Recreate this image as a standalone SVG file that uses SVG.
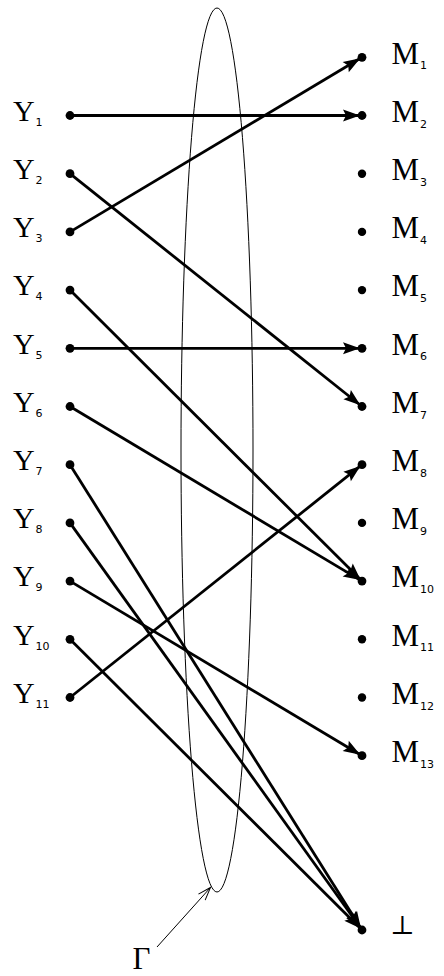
<svg xmlns="http://www.w3.org/2000/svg" width="444" height="976" viewBox="0 0 444 976">
<style>
.lbl{font-family:"Liberation Serif","Times New Roman",serif;font-size:31px;fill:#000}
.ylbl{font-family:"Liberation Serif","Times New Roman",serif;font-size:30px;fill:#000}
.sub{font-family:"DejaVu Sans",sans-serif;font-size:11px;fill:#000}
.edge{stroke:#000;stroke-width:2.8;fill:none;marker-end:url(#ah)}
.dot{fill:#000}
</style>
<defs>
<marker id="ah" markerUnits="userSpaceOnUse" markerWidth="22" markerHeight="16" viewBox="0 0 22 16" refX="20" refY="8" orient="auto"><path d="M1,2 L18,8 L1,14 L4,8 z" fill="#000"/></marker>
<marker id="oa" markerUnits="userSpaceOnUse" markerWidth="16" markerHeight="12" viewBox="0 0 16 12" refX="14" refY="6" orient="auto"><path d="M1,1.5 L14,6 L1,10.5" fill="none" stroke="#000" stroke-width="1"/></marker>
</defs>
<g id="gamma-set">
<ellipse cx="217" cy="450" rx="36" ry="442" fill="none" stroke="#000" stroke-width="1"/>
</g>
<g id="connectors">
<line class="edge" x1="70" y1="115.5" x2="362" y2="115.5"/>
<line class="edge" x1="70" y1="173.7" x2="362" y2="406.5"/>
<line class="edge" x1="70" y1="231.9" x2="362" y2="57.3"/>
<line class="edge" x1="70" y1="290.1" x2="362" y2="581.1"/>
<line class="edge" x1="70" y1="348.3" x2="362" y2="348.3"/>
<line class="edge" x1="70" y1="406.5" x2="362" y2="581.1"/>
<line class="edge" x1="70" y1="464.7" x2="362" y2="930"/>
<line class="edge" x1="70" y1="522.9" x2="362" y2="930"/>
<line class="edge" x1="70" y1="581.1" x2="362" y2="755.7"/>
<line class="edge" x1="70" y1="639.3" x2="362" y2="930"/>
<line class="edge" x1="70" y1="697.5" x2="362" y2="464.7"/>
<line x1="157" y1="947" x2="210.5" y2="887.5" stroke="#000" stroke-width="1" marker-end="url(#oa)"/>
</g>
<g id="Y1"><circle class="dot" cx="70" cy="115.5" r="4.4"/><text class="ylbl" x="13" y="120.8">Y</text><text class="sub" x="35.4" y="125.8">1</text></g>
<g id="Y2"><circle class="dot" cx="70" cy="173.7" r="4.4"/><text class="ylbl" x="13" y="179">Y</text><text class="sub" x="35.4" y="184">2</text></g>
<g id="Y3"><circle class="dot" cx="70" cy="231.9" r="4.4"/><text class="ylbl" x="13" y="237.2">Y</text><text class="sub" x="35.4" y="242.2">3</text></g>
<g id="Y4"><circle class="dot" cx="70" cy="290.1" r="4.4"/><text class="ylbl" x="13" y="295.4">Y</text><text class="sub" x="35.4" y="300.4">4</text></g>
<g id="Y5"><circle class="dot" cx="70" cy="348.3" r="4.4"/><text class="ylbl" x="13" y="353.6">Y</text><text class="sub" x="35.4" y="358.6">5</text></g>
<g id="Y6"><circle class="dot" cx="70" cy="406.5" r="4.4"/><text class="ylbl" x="13" y="411.8">Y</text><text class="sub" x="35.4" y="416.8">6</text></g>
<g id="Y7"><circle class="dot" cx="70" cy="464.7" r="4.4"/><text class="ylbl" x="13" y="470">Y</text><text class="sub" x="35.4" y="475">7</text></g>
<g id="Y8"><circle class="dot" cx="70" cy="522.9" r="4.4"/><text class="ylbl" x="13" y="528.2">Y</text><text class="sub" x="35.4" y="533.2">8</text></g>
<g id="Y9"><circle class="dot" cx="70" cy="581.1" r="4.4"/><text class="ylbl" x="13" y="586.4">Y</text><text class="sub" x="35.4" y="591.4">9</text></g>
<g id="Y10"><circle class="dot" cx="70" cy="639.3" r="4.4"/><text class="ylbl" x="13" y="644.6">Y</text><text class="sub" x="35.4" y="649.6">10</text></g>
<g id="Y11"><circle class="dot" cx="70" cy="697.5" r="4.4"/><text class="ylbl" x="13" y="702.8">Y</text><text class="sub" x="35.4" y="707.8">11</text></g>
<g id="M1"><circle class="dot" cx="362" cy="57.3" r="4.4"/><text class="lbl" x="391.5" y="63.6">M</text><text class="sub" x="420" y="69.3">1</text></g>
<g id="M2"><circle class="dot" cx="362" cy="115.5" r="4.4"/><text class="lbl" x="391.5" y="121.8">M</text><text class="sub" x="420" y="127.5">2</text></g>
<g id="M3"><circle class="dot" cx="362" cy="173.7" r="4.2"/><text class="lbl" x="391.5" y="180">M</text><text class="sub" x="420" y="185.7">3</text></g>
<g id="M4"><circle class="dot" cx="362" cy="231.9" r="4.2"/><text class="lbl" x="391.5" y="238.2">M</text><text class="sub" x="420" y="243.9">4</text></g>
<g id="M5"><circle class="dot" cx="362" cy="290.1" r="4.2"/><text class="lbl" x="391.5" y="296.4">M</text><text class="sub" x="420" y="302.1">5</text></g>
<g id="M6"><circle class="dot" cx="362" cy="348.3" r="4.4"/><text class="lbl" x="391.5" y="354.6">M</text><text class="sub" x="420" y="360.3">6</text></g>
<g id="M7"><circle class="dot" cx="362" cy="406.5" r="4.4"/><text class="lbl" x="391.5" y="412.8">M</text><text class="sub" x="420" y="418.5">7</text></g>
<g id="M8"><circle class="dot" cx="362" cy="464.7" r="4.4"/><text class="lbl" x="391.5" y="471">M</text><text class="sub" x="420" y="476.7">8</text></g>
<g id="M9"><circle class="dot" cx="362" cy="522.9" r="4.2"/><text class="lbl" x="391.5" y="529.2">M</text><text class="sub" x="420" y="534.9">9</text></g>
<g id="M10"><circle class="dot" cx="362" cy="581.1" r="4.4"/><text class="lbl" x="391.5" y="587.4">M</text><text class="sub" x="420" y="593.1">10</text></g>
<g id="M11"><circle class="dot" cx="362" cy="639.3" r="4.2"/><text class="lbl" x="391.5" y="645.6">M</text><text class="sub" x="420" y="651.3">11</text></g>
<g id="M12"><circle class="dot" cx="362" cy="697.5" r="4.2"/><text class="lbl" x="391.5" y="703.8">M</text><text class="sub" x="420" y="709.5">12</text></g>
<g id="M13"><circle class="dot" cx="362" cy="755.7" r="4.4"/><text class="lbl" x="391.5" y="762">M</text><text class="sub" x="420" y="767.7">13</text></g>
<g id="bottom"><circle class="dot" cx="362" cy="930" r="4.4"/><text x="390" y="934" style="font-family:'DejaVu Serif','DejaVu Sans',serif;font-size:26px;fill:#000">⊥</text></g>
<g id="Gamma"><text class="lbl" x="132.5" y="969">Γ</text></g>
</svg>
